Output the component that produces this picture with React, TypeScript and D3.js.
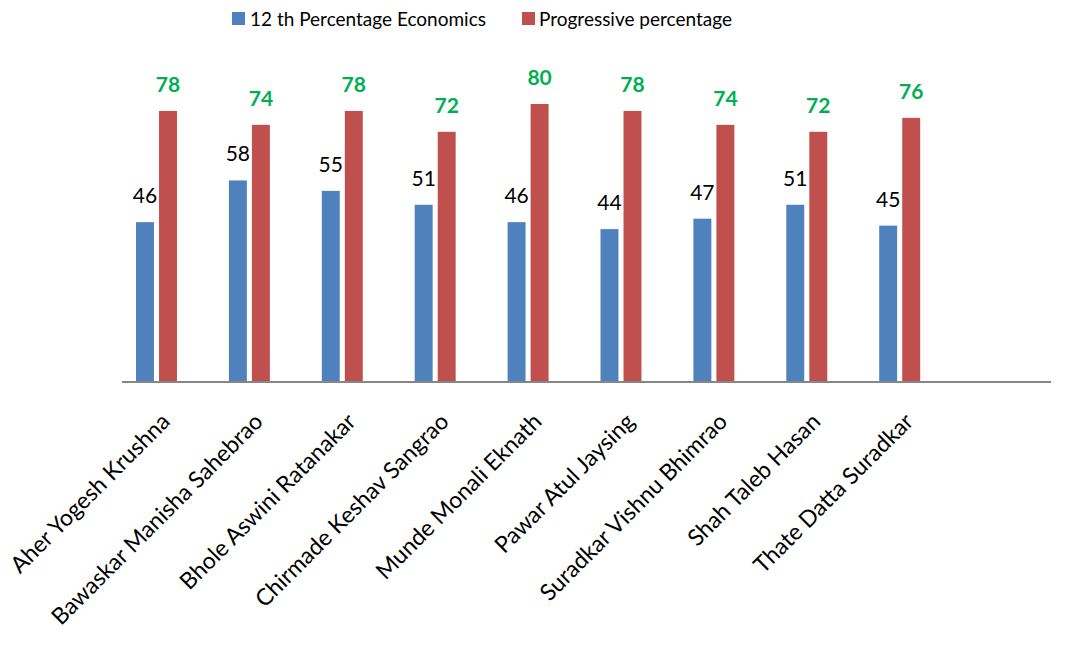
import React from "react";
import * as d3 from "d3";

const categories = [
  "Aher Yogesh Krushna",
  "Bawaskar Manisha Sahebrao",
  "Bhole Aswini Ratanakar",
  "Chirmade Keshav Sangrao",
  "Munde Monali Eknath",
  "Pawar Atul Jaysing",
  "Suradkar Vishnu Bhimrao",
  "Shah Taleb Hasan",
  "Thate Datta Suradkar",
  "",
];
const economics = [46, 58, 55, 51, 46, 44, 47, 51, 45];
const progressive = [78, 74, 78, 72, 80, 78, 74, 72, 76];
const seriesNames = ["12 th Percentage Economics", "Progressive percentage", "(blank)"];

const W = 1070;
const H = 660;
const FONT = "Lato, 'Open Sans', sans-serif";

export default function App() {
  const x0 = d3.scaleBand<string>().domain(categories.map((c, i) => String(i))).range([122, 1051]).padding(0);
  const x1 = d3.scaleBand<string>().domain(seriesNames).range([14, 78]).paddingInner(0.22);
  const y = d3.scaleLinear().domain([0, 90]).range([382, 382 - 90 * 3.475]);

  return (
    <svg width={W} height={H} style={{ position: "absolute", left: 0, top: 0, background: "#fff" }} fontFamily={FONT}>
      {/* legend */}
      <g>
        <rect x={232} y={12} width={13} height={13} fill="#4F81BD" />
        <text x={250} y={26} fontSize={19} fill="#000">{seriesNames[0]}</text>
        <rect x={522} y={12} width={13} height={13} fill="#C0504D" />
        <text x={539} y={26} fontSize={19} fill="#000">{seriesNames[1]}</text>
      </g>
      {/* bars */}
      {economics.map((v, i) => {
        const bx = (x0(String(i)) as number) + (x1(seriesNames[0]) as number);
        const bw = x1.bandwidth();
        return (
          <g key={"e" + i}>
            <rect x={bx} y={y(v)} width={bw} height={y(0) - y(v)} fill="#4F81BD" />
            <text x={bx + bw / 2} y={y(v) - 19} textAnchor="middle" fontSize={21} fill="#000">{v}</text>
          </g>
        );
      })}
      {progressive.map((v, i) => {
        const bx = (x0(String(i)) as number) + (x1(seriesNames[1]) as number);
        const bw = x1.bandwidth();
        return (
          <g key={"p" + i}>
            <rect x={bx} y={y(v)} width={bw} height={y(0) - y(v)} fill="#C0504D" />
            <text x={bx + bw / 2} y={y(v) - 19} textAnchor="middle" fontSize={21} fontWeight="bold" fill="#00B050">{v}</text>
          </g>
        );
      })}
      {/* axis */}
      <line x1={122} x2={1051} y1={y(0)} y2={y(0)} stroke="#868686" strokeWidth={2} />
      {/* category labels */}
      {categories.map((c, i) => {
        const cx = (x0(String(i)) as number) + x0.bandwidth() / 2;
        return c ? (
          <text
            key={"c" + i}
            transform={`translate(${cx + 3},${423}) rotate(-45)`}
            textAnchor="end"
            fontSize={23}
            fill="#000"
          >
            {c}
          </text>
        ) : null;
      })}
    </svg>
  );
}
